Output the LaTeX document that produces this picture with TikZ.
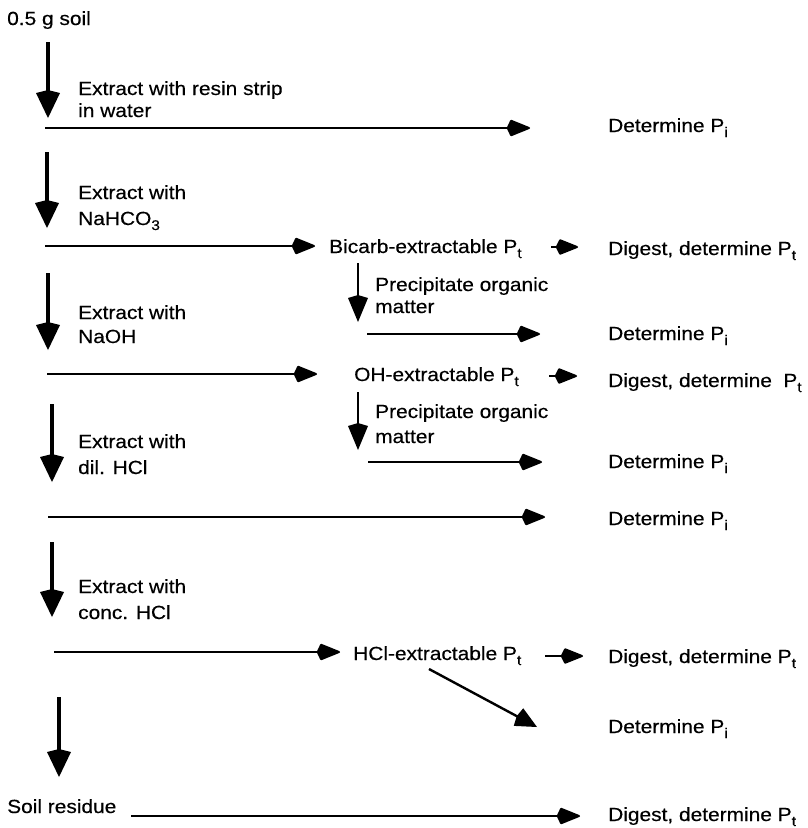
\documentclass[tikz,border=0pt]{standalone}
\usepackage{fontspec}
\setmainfont{Liberation Sans}[FakeStretch=1.1,FakeBold=0.4]
\usetikzlibrary{arrows.meta}
\newcommand\subsc[1]{\raisebox{-5pt}{\fontsize{14}{14}\selectfont #1}}
\begin{document}
\begin{tikzpicture}[x=1pt,y=-1pt,
  txt/.style={anchor=base west, inner sep=0pt, font=\fontsize{19}{23}\selectfont},
  mainarr/.style={line width=4pt, -{Kite[length=28pt,width=24pt,inset=3pt]}},
  harr/.style={line width=2pt, -{Kite[length=25pt,width=17pt,inset=4pt,round]}},
  sarr/.style={line width=2pt, -{Kite[length=24pt,width=16pt,inset=4pt,round]}},
  darr/.style={line width=2.4pt, -{Kite[length=27pt,width=20pt,inset=3pt]}},
  diag/.style={line width=2.4pt, -{Kite[length=23pt,width=20pt,inset=2pt]}}]
\useasboundingbox (0,0) rectangle (807,828);

% start
\node[txt] (soil) at (7,25) {0.5 g soil};

% step 1
\coordinate (a1s) at (48,42); \coordinate (a1e) at (48,118);
\draw[mainarr] (a1s) -- (a1e);
\node[txt] (e1a) at (78,95) {Extract with resin strip};
\node[txt] (e1b) at (78,117) {in water};
\coordinate (h1s) at (45,128); \coordinate (h1e) at (530,128);
\draw[harr] (h1s) -- (h1e);
\node[txt] (r1) at (608,132) {Determine P\subsc{i}};

% step 2
\coordinate (a2s) at (47,152); \coordinate (a2e) at (47,228);
\draw[mainarr] (a2s) -- (a2e);
\node[txt] (e2a) at (78,199) {Extract with};
\node[txt] (e2b) at (78,225) {NaHCO\subsc{3}};
\coordinate (h2s) at (45,246); \coordinate (h2e) at (315,246);
\draw[harr] (h2s) -- (h2e);
\node[txt] (bic) at (329,253) {Bicarb-extractable P\subsc{t}};
\coordinate (s2s) at (551,247); \coordinate (s2e) at (578,247);
\draw[sarr] (s2s) -- (s2e);
\node[txt] (r2) at (608,255) {Digest, determine P\subsc{t}};
\coordinate (d2s) at (358,263); \coordinate (d2e) at (358,322);
\draw[darr] (d2s) -- (d2e);
\node[txt] (p2a) at (375,291) {Precipitate organic};
\node[txt] (p2b) at (375,313) {matter};
\coordinate (g2s) at (367,334); \coordinate (g2e) at (540,334);
\draw[harr] (g2s) -- (g2e);
\node[txt] (r3) at (608,340) {Determine P\subsc{i}};

% step 3
\coordinate (a3s) at (48,273); \coordinate (a3e) at (48,350);
\draw[mainarr] (a3s) -- (a3e);
\node[txt] (e3a) at (78,319) {Extract with};
\node[txt] (e3b) at (78,343) {NaOH};
\coordinate (h3s) at (47,374); \coordinate (h3e) at (317,374);
\draw[harr] (h3s) -- (h3e);
\node[txt] (ohx) at (354,381) {OH-extractable P\subsc{t}};
\coordinate (s3s) at (549,376); \coordinate (s3e) at (577,376);
\draw[sarr] (s3s) -- (s3e);
\node[txt] (r4) at (608,387) {Digest, determine\hspace{0.6em}P\subsc{t}};
\coordinate (d3s) at (358,392); \coordinate (d3e) at (358,450);
\draw[darr] (d3s) -- (d3e);
\node[txt] (p3a) at (375,418) {Precipitate organic};
\node[txt] (p3b) at (375,443) {matter};
\coordinate (g3s) at (368,462); \coordinate (g3e) at (542,462);
\draw[harr] (g3s) -- (g3e);
\node[txt] (r5) at (608,468) {Determine P\subsc{i}};

% step 4
\coordinate (a4s) at (52,404); \coordinate (a4e) at (52,482);
\draw[mainarr] (a4s) -- (a4e);
\node[txt] (e4a) at (78,448) {Extract with};
\node[txt] (e4b) at (78,474) {dil. HCl};
\coordinate (h4s) at (48,517); \coordinate (h4e) at (545,517);
\draw[harr] (h4s) -- (h4e);
\node[txt] (r6) at (608,525) {Determine P\subsc{i}};

% step 5
\coordinate (a5s) at (52,542); \coordinate (a5e) at (52,617);
\draw[mainarr] (a5s) -- (a5e);
\node[txt] (e5a) at (78,593) {Extract with};
\node[txt] (e5b) at (78,619) {conc. HCl};
\coordinate (h5s) at (54,652); \coordinate (h5e) at (340,652);
\draw[harr] (h5s) -- (h5e);
\node[txt] (hcx) at (353,660) {HCl-extractable P\subsc{t}};
\coordinate (s5s) at (545,656); \coordinate (s5e) at (583,656);
\draw[sarr] (s5s) -- (s5e);
\node[txt] (r7) at (608,663) {Digest, determine P\subsc{t}};
\coordinate (q5s) at (429,669); \coordinate (q5e) at (537,727);
\draw[diag] (q5s) -- (q5e);
\node[txt] (r8) at (608,733) {Determine P\subsc{i}};

% step 6
\coordinate (a6s) at (59,697); \coordinate (a6e) at (59,777);
\draw[mainarr] (a6s) -- (a6e);
\node[txt] (res) at (7,813) {Soil residue};
\coordinate (h6s) at (131,816); \coordinate (h6e) at (580,816);
\draw[harr] (h6s) -- (h6e);
\node[txt] (r9) at (608,821) {Digest, determine P\subsc{t}};
\end{tikzpicture}
\end{document}
